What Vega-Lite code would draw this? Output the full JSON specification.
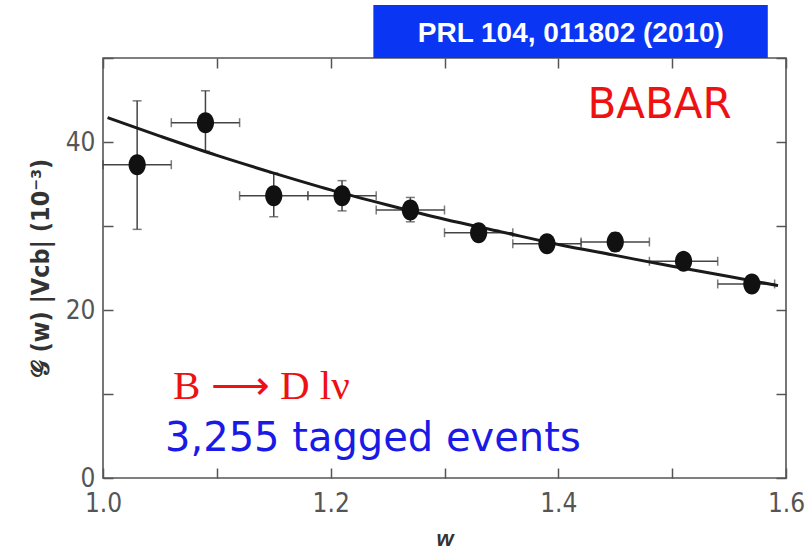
{
  "$schema": "https://vega.github.io/schema/vega-lite/v6.json",
  "width": 683,
  "height": 420,
  "autosize": {"type": "none"},
  "padding": {"left": 103, "top": 58, "right": 20, "bottom": 79},
  "background": "white",
  "config": {
    "view": {"stroke": "#555555", "strokeWidth": 1.6},
    "axis": {"grid": false, "tickColor": "#555555", "tickWidth": 1.5}
  },
  "datasets": {
    "pts": [
      {"w": 1.03, "g": 37.3, "xlo": 1.0, "xhi": 1.06, "ylo": 29.6, "yhi": 44.9},
      {"w": 1.09, "g": 42.3, "xlo": 1.06, "xhi": 1.12, "ylo": 38.9, "yhi": 46.1},
      {"w": 1.15, "g": 33.6, "xlo": 1.12, "xhi": 1.18, "ylo": 31.1, "yhi": 36.3},
      {"w": 1.21, "g": 33.6, "xlo": 1.18, "xhi": 1.24, "ylo": 31.8, "yhi": 35.4},
      {"w": 1.27, "g": 31.9, "xlo": 1.24, "xhi": 1.30, "ylo": 30.5, "yhi": 33.4},
      {"w": 1.33, "g": 29.2, "xlo": 1.30, "xhi": 1.36, "ylo": 28.2, "yhi": 30.2},
      {"w": 1.39, "g": 27.9, "xlo": 1.36, "xhi": 1.42, "ylo": 27.0, "yhi": 28.8},
      {"w": 1.45, "g": 28.1, "xlo": 1.42, "xhi": 1.48, "ylo": 27.0, "yhi": 29.2},
      {"w": 1.51, "g": 25.8, "xlo": 1.48, "xhi": 1.54, "ylo": 24.9, "yhi": 26.7},
      {"w": 1.57, "g": 23.1, "xlo": 1.54, "xhi": 1.59, "ylo": 22.2, "yhi": 24.0}
    ],
    "fit": [
      {"w": 1.004, "g": 42.9},
      {"w": 1.05, "g": 40.7},
      {"w": 1.10, "g": 38.4},
      {"w": 1.15, "g": 36.3},
      {"w": 1.20, "g": 34.3},
      {"w": 1.25, "g": 32.5},
      {"w": 1.30, "g": 30.8},
      {"w": 1.35, "g": 29.3},
      {"w": 1.40, "g": 27.8},
      {"w": 1.45, "g": 26.5},
      {"w": 1.50, "g": 25.2},
      {"w": 1.55, "g": 24.0},
      {"w": 1.593, "g": 22.9}
    ],
    "box": [{"w": 1.2375, "w2": 1.584, "g": 50, "g2": 56.3}],
    "boxtext": [{"w": 1.411, "g": 52.9, "label": "PRL 104, 011802 (2010)"}],
    "babar": [{"w": 1.489, "g": 42.9, "label": "BABAR"}],
    "decay": [{"w": 1.0616, "g": 9.4, "label": "B ⟶ D lν"}],
    "events": [{"w": 1.0545, "g": 3.2, "label": "3,255 tagged events"}]
  },
  "layer": [
    {
      "data": {"name": "pts"},
      "mark": {"type": "rule", "color": "#444444", "strokeWidth": 1.5},
      "encoding": {
        "x": {"field": "xlo", "type": "quantitative", "scale": {"domain": [1, 1.6], "nice": false, "zero": false}, "axis": null},
        "x2": {"field": "xhi"},
        "y": {"field": "g", "type": "quantitative", "scale": {"domain": [0, 50], "nice": false, "zero": false}, "axis": null}
      }
    },
    {
      "data": {"name": "pts"},
      "mark": {"type": "rule", "color": "#444444", "strokeWidth": 1.5},
      "encoding": {
        "x": {"field": "w", "type": "quantitative", "scale": {"domain": [1, 1.6], "nice": false, "zero": false}, "axis": null},
        "y": {"field": "ylo", "type": "quantitative", "scale": {"domain": [0, 50], "nice": false, "zero": false}, "axis": null},
        "y2": {"field": "yhi"}
      }
    },
    {
      "data": {"name": "pts"},
      "transform": [{"fold": ["xlo", "xhi"], "as": ["k", "xe"]}],
      "mark": {"type": "tick", "orient": "vertical", "size": 9, "thickness": 1.5, "color": "#444444"},
      "encoding": {
        "x": {"field": "xe", "type": "quantitative", "scale": {"domain": [1, 1.6], "nice": false, "zero": false}, "axis": null},
        "y": {"field": "g", "type": "quantitative", "scale": {"domain": [0, 50], "nice": false, "zero": false}, "axis": null}
      }
    },
    {
      "data": {"name": "pts"},
      "transform": [{"fold": ["ylo", "yhi"], "as": ["k", "ye"]}],
      "mark": {"type": "tick", "orient": "horizontal", "size": 9, "thickness": 1.5, "color": "#444444"},
      "encoding": {
        "x": {"field": "w", "type": "quantitative", "scale": {"domain": [1, 1.6], "nice": false, "zero": false}, "axis": null},
        "y": {"field": "ye", "type": "quantitative", "scale": {"domain": [0, 50], "nice": false, "zero": false}, "axis": null}
      }
    },
    {
      "data": {"name": "fit"},
      "mark": {"type": "line", "color": "#1a1a1a", "strokeWidth": 3, "interpolate": "monotone"},
      "encoding": {
        "x": {
          "field": "w", "type": "quantitative",
          "scale": {"domain": [1, 1.6], "nice": false, "zero": false},
          "axis": {
            "orient": "bottom",
            "values": [1, 1.1, 1.2, 1.3, 1.4, 1.5, 1.6],
            "labelExpr": "round(datum.value*10)%2==0 ? format(datum.value,'.1f') : ''",
            "labelFlush": false,
            "labelOverlap": false,
            "domain": false,
            "tickSize": -10,
            "labelPadding": 22,
            "labelFont": "Liberation Sans Narrow, DejaVu Sans Condensed, sans-serif",
            "labelFontSize": 26,
            "labelColor": "#555555",
            "title": "w",
            "titleFont": "Liberation Sans",
            "titleFontSize": 22,
            "titleFontStyle": "italic",
            "titleFontWeight": "bold",
            "titleColor": "#333333",
            "titlePadding": 12
          }
        },
        "y": {
          "field": "g", "type": "quantitative",
          "scale": {"domain": [0, 50], "nice": false, "zero": false},
          "axis": {
            "orient": "left",
            "values": [0, 10, 20, 30, 40, 50],
            "labelExpr": "datum.value%20==0 ? datum.value+'' : ''",
            "labelOverlap": false,
            "labelFlush": false,
            "domain": false,
            "tickSize": -10,
            "labelPadding": 18,
            "labelFont": "Liberation Sans Narrow, DejaVu Sans Condensed, sans-serif",
            "labelFontSize": 26,
            "labelColor": "#555555",
            "title": "𝒢 (w) |Vcb| (10⁻³)",
            "titleFont": "DejaVu Sans Condensed, DejaVu Sans",
            "titleFontSize": 25,
            "titleFontWeight": "bold",
            "titleColor": "#333333",
            "titlePadding": 12
          }
        }
      }
    },
    {
      "data": {"name": "pts"},
      "mark": {"type": "point", "filled": true, "color": "#111111", "opacity": 1, "size": 441, "shape": "M -0.82 0 A 0.82 1 0 1 1 0.82 0 A 0.82 1 0 1 1 -0.82 0 Z"},
      "encoding": {
        "x": {
          "field": "w", "type": "quantitative",
          "scale": {"domain": [1, 1.6], "nice": false, "zero": false},
          "axis": {
            "orient": "top",
            "values": [1, 1.1, 1.2, 1.3, 1.4, 1.5, 1.6],
            "labels": false,
            "domain": false,
            "title": null,
            "tickSize": -10
          }
        },
        "y": {
          "field": "g", "type": "quantitative",
          "scale": {"domain": [0, 50], "nice": false, "zero": false},
          "axis": {
            "orient": "right",
            "values": [0, 10, 20, 30, 40, 50],
            "labels": false,
            "domain": false,
            "title": null,
            "tickSize": -10
          }
        }
      }
    },
    {
      "data": {"name": "box"},
      "mark": {"type": "rect", "color": "#0a35f2"},
      "encoding": {
        "x": {"field": "w", "type": "quantitative", "scale": {"domain": [1, 1.6], "nice": false, "zero": false}, "axis": null},
        "x2": {"field": "w2"},
        "y": {"field": "g", "type": "quantitative", "scale": {"domain": [0, 50], "nice": false, "zero": false}, "axis": null},
        "y2": {"field": "g2"}
      }
    },
    {
      "data": {"name": "boxtext"},
      "mark": {"type": "text", "color": "white", "font": "Liberation Sans", "fontSize": 28, "fontWeight": "bold", "align": "center", "baseline": "middle"},
      "encoding": {
        "x": {"field": "w", "type": "quantitative", "scale": {"domain": [1, 1.6], "nice": false, "zero": false}, "axis": null},
        "y": {"field": "g", "type": "quantitative", "scale": {"domain": [0, 50], "nice": false, "zero": false}, "axis": null},
        "text": {"field": "label"}
      }
    },
    {
      "data": {"name": "babar"},
      "mark": {"type": "text", "color": "#ee1111", "font": "DejaVu Sans", "fontSize": 42, "align": "center", "baseline": "alphabetic"},
      "encoding": {
        "x": {"field": "w", "type": "quantitative", "scale": {"domain": [1, 1.6], "nice": false, "zero": false}, "axis": null},
        "y": {"field": "g", "type": "quantitative", "scale": {"domain": [0, 50], "nice": false, "zero": false}, "axis": null},
        "text": {"field": "label"}
      }
    },
    {
      "data": {"name": "decay"},
      "mark": {"type": "text", "color": "#ee1111", "font": "Liberation Serif", "fontSize": 41, "align": "left", "baseline": "alphabetic"},
      "encoding": {
        "x": {"field": "w", "type": "quantitative", "scale": {"domain": [1, 1.6], "nice": false, "zero": false}, "axis": null},
        "y": {"field": "g", "type": "quantitative", "scale": {"domain": [0, 50], "nice": false, "zero": false}, "axis": null},
        "text": {"field": "label"}
      }
    },
    {
      "data": {"name": "events"},
      "mark": {"type": "text", "color": "#1a1ae6", "font": "DejaVu Sans", "fontSize": 40, "align": "left", "baseline": "alphabetic"},
      "encoding": {
        "x": {"field": "w", "type": "quantitative", "scale": {"domain": [1, 1.6], "nice": false, "zero": false}, "axis": null},
        "y": {"field": "g", "type": "quantitative", "scale": {"domain": [0, 50], "nice": false, "zero": false}, "axis": null},
        "text": {"field": "label"}
      }
    }
  ],
  "resolve": {"axis": {"x": "independent", "y": "independent"}}
}
